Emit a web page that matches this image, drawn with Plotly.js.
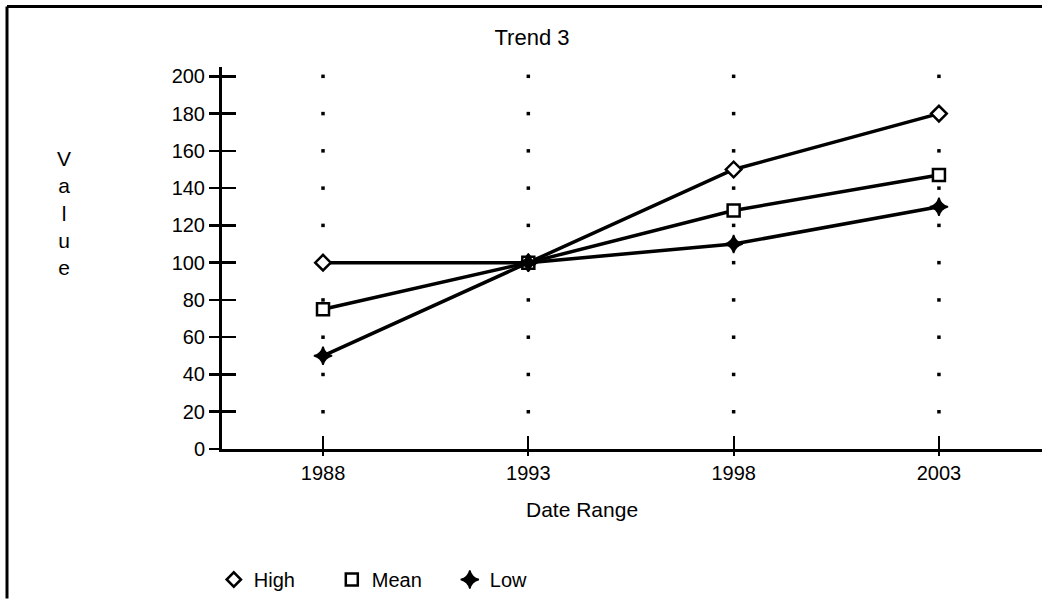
<!DOCTYPE html>
<html>
<head>
<meta charset="utf-8">
<script src="https://cdn.plot.ly/plotly-3.0.1.min.js"></script>
<style>html,body{margin:0;padding:0;background:#fff;}#chart{width:1042px;height:599px;}</style>
</head>
<body>
<div id="chart"></div>
<script>
// ---- data ----
const years = [1988, 1993, 1998, 2003];
const highValues = [100, 100, 150, 180];
const meanValues = [75, 100, 128, 147];
const lowValues = [50, 100, 110, 130];
const yTickValues = [0, 20, 40, 60, 80, 100, 120, 140, 160, 180, 200];
const seriesNames = ["High", "Mean", "Low"];
const chartTitle = "Trend 3";
const xTitle = "Date Range";
const yTitle = "Value";

// dotted grid: one dot per category per (non-zero) y tick
const gridX = [], gridY = [];
years.forEach(function (yr) {
  yTickValues.forEach(function (v) { if (v > 0) { gridX.push(yr); gridY.push(v); } });
});

const FONT = "Liberation Sans, Arial, sans-serif";
const xRange = [1985.54, 2005.51];
const yRange = [0, 205];

const traces = [
  {x: gridX, y: gridY, mode: "markers", type: "scatter", showlegend: false, hoverinfo: "skip",
   marker: {symbol: "square", size: 3.5, color: "#000"}},
  {x: years, y: highValues, name: seriesNames[0], mode: "lines+markers", type: "scatter", showlegend: false,
   line: {color: "#000", width: 3.5},
   marker: {symbol: "diamond", size: 12, color: "#fff", line: {color: "#000", width: 2.5}}},
  {x: years, y: meanValues, name: seriesNames[1], mode: "lines+markers", type: "scatter", showlegend: false,
   line: {color: "#000", width: 3.5},
   marker: {symbol: "square", size: 12, color: "#fff", line: {color: "#000", width: 2.5}}},
  {x: years, y: lowValues, name: seriesNames[2], mode: "lines+markers", type: "scatter", showlegend: false,
   line: {color: "#000", width: 3.5},
   marker: {symbol: "star-diamond", size: 13, color: "#000", line: {color: "#000", width: 1.5}}},
  // legend-only entries (markers only, as in the reference)
  {x: [null], y: [null], name: seriesNames[0], mode: "markers", type: "scatter",
   marker: {symbol: "diamond", size: 11, color: "#fff", line: {color: "#000", width: 2.5}}},
  {x: [null], y: [null], name: seriesNames[1], mode: "markers", type: "scatter",
   marker: {symbol: "square", size: 12, color: "#fff", line: {color: "#000", width: 2.5}}},
  {x: [null], y: [null], name: seriesNames[2], mode: "markers", type: "scatter",
   marker: {symbol: "star-diamond", size: 13, color: "#000", line: {color: "#000", width: 1.5}}}
];

const layout = {
  width: 1042, height: 599,
  margin: {l: 222, r: 0, t: 67, b: 149, pad: 0},
  paper_bgcolor: "#fff", plot_bgcolor: "#fff",
  font: {family: FONT, color: "#000", size: 21},
  title: {text: chartTitle, font: {family: FONT, size: 22, color: "#000"},
          xref: "paper", x: (532 - 222) / 820, xanchor: "center", yref: "container", y: 1 - 37 / 599, yanchor: "middle"},
  xaxis: {range: xRange, tickvals: years, ticktext: years.map(String), showgrid: false, zeroline: false,
          showline: true, linecolor: "#000", linewidth: 3, ticks: "outside", ticklen: 4, tickwidth: 2,
          tickcolor: "#000", tickfont: {family: FONT, size: 20}, fixedrange: true},
  xaxis2: {range: xRange, overlaying: "x", anchor: "y", side: "bottom", tickvals: years, showticklabels: false,
           showgrid: false, zeroline: false, showline: false, ticks: "inside", ticklen: 13, tickwidth: 2, tickcolor: "#000"},
  yaxis: {range: yRange, tickvals: yTickValues, showgrid: false, zeroline: false,
          showline: true, linecolor: "#000", linewidth: 3, ticks: "outside", ticklen: 10, tickwidth: 2.5,
          tickcolor: "#000", tickfont: {family: FONT, size: 20}, fixedrange: true},
  yaxis2: {range: yRange, overlaying: "y", anchor: "x", side: "left", tickvals: yTickValues, showticklabels: false,
           showgrid: false, zeroline: false, showline: false, ticks: "inside", ticklen: 14, tickwidth: 2.5, tickcolor: "#000"},
  showlegend: true,
  legend: {orientation: "h", x: -0.010, xanchor: "left", y: -0.342, yanchor: "middle",
           entrywidth: 73, entrywidthmode: "pixels", font: {family: FONT, size: 20, color: "#000"},
           bgcolor: "rgba(0,0,0,0)", itemclick: false, itemdoubleclick: false},
  annotations: [
    {text: xTitle, xref: "paper", yref: "paper", x: (582 - 222) / 820, y: (450 - 511) / 383.3, xanchor: "center", yanchor: "middle",
     showarrow: false, font: {family: FONT, size: 21, color: "#000"}},
    {text: yTitle.split("").join("<br>"), xref: "paper", yref: "paper", x: (64 - 222) / 820, y: (450 - 213) / 383.3,
     xanchor: "center", yanchor: "middle", showarrow: false, font: {family: FONT, size: 21, color: "#000"}}
  ],
  shapes: [
    {type: "line", xref: "paper", yref: "paper", x0: (7 - 222) / 820, x1: 1.0, y0: (450 - 6) / 383.3, y1: (450 - 6) / 383.3,
     line: {color: "#000", width: 3}},
    {type: "line", xref: "paper", yref: "paper", x0: (7 - 222) / 820, x1: (7 - 222) / 820, y0: (450 - 6) / 383.3, y1: (450 - 600) / 383.3,
     line: {color: "#000", width: 3}}
  ]
};

// dummy trace to activate overlay axes
traces.push({x: [null], y: [null], xaxis: "x2", yaxis: "y2", showlegend: false, hoverinfo: "skip", mode: "markers"});

Plotly.newPlot("chart", traces, layout, {displayModeBar: false, staticPlot: true});
</script>
</body>
</html>
